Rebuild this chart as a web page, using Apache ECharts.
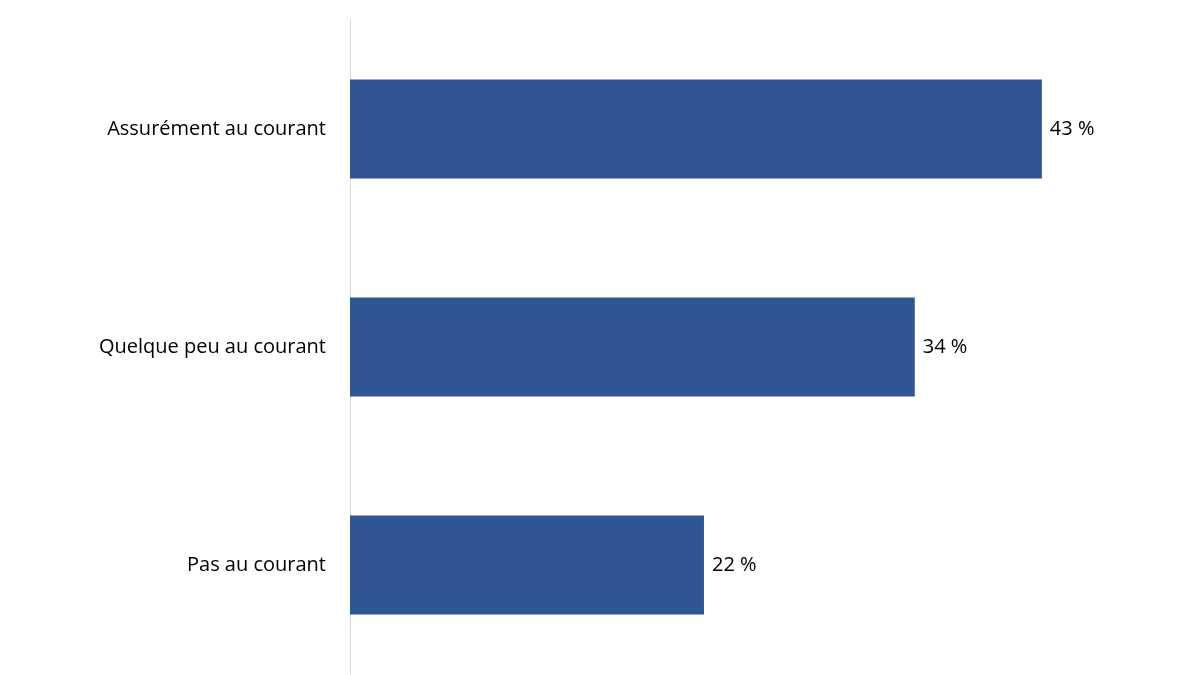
<!DOCTYPE html>
<html>
<head>
<meta charset="utf-8">
<script src="https://cdn.jsdelivr.net/npm/echarts@6/dist/echarts.min.js"></script>
<style>html,body{margin:0;padding:0;background:#fff}#chart{width:1200px;height:675px}</style>
</head>
<body>
<div id="chart"></div>
<script>
var categories = ['Pas au courant', 'Quelque peu au courant', 'Assurément au courant'];
var values = [22, 35.1, 43];
var labels = ['22 %', '34 %', '43 %'];

var chart = echarts.init(document.getElementById('chart'));
chart.setOption({
    animation: false,
    grid: {left: 350, right: 45.5, top: 20, bottom: 1},
    xAxis: {type: 'value', min: 0, max: 50, show: false},
    yAxis: {
        type: 'category', data: categories,
        axisLine: {show: true, lineStyle: {color: '#d9d9d9'}},
        axisTick: {show: false},
        axisLabel: {color: '#000', fontSize: 20, fontFamily: 'Open Sans', margin: 24}
    },
    series: [{
        type: 'bar', data: values, barWidth: 99,
        itemStyle: {color: '#2f5597'},
        label: {
            show: true, position: 'right', distance: 8,
            color: '#000', fontSize: 20, fontFamily: 'Open Sans',
            formatter: function (p) { return labels[p.dataIndex]; }
        }
    }]
});
</script>
</body>
</html>
